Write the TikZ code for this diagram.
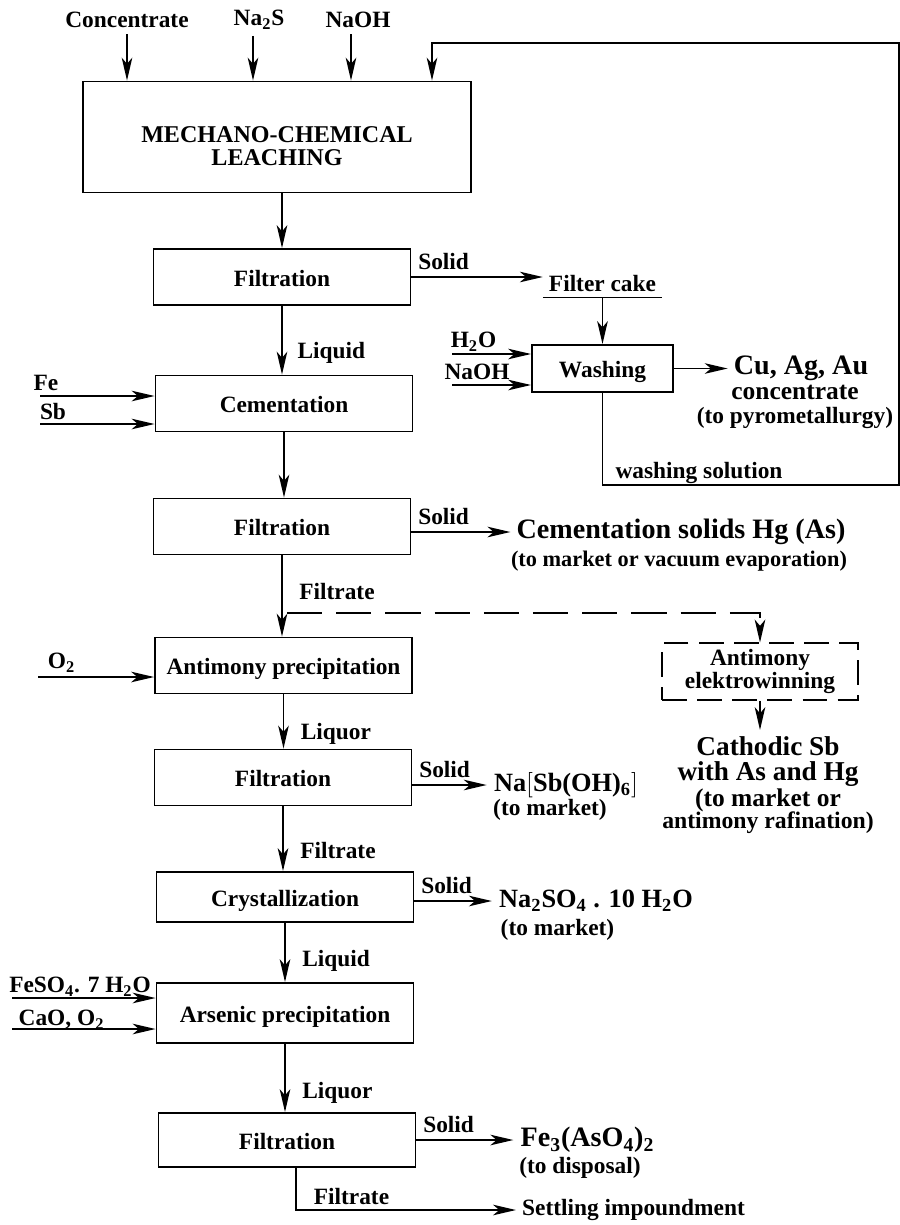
\documentclass[tikz,border=0pt]{standalone}
\usepackage{fontspec}
\setmainfont{Liberation Serif}
\usetikzlibrary{arrows.meta}
\newcommand{\sizeL}{\fontsize{16}{18}\selectfont}
\newcommand{\sizeM}{\fontsize{14.5}{16}\selectfont}
\tikzset{
  unit/.style={draw, line width=1.1pt, minimum width=5.14cm, minimum height=1.12cm,
    text height=1.1em, text depth=0.05em},
  feed/.style={-{Stealth[length=13pt,width=6pt,inset=3.5pt]}, line width=1.1pt},
  note/.style={inner sep=1pt},
}
\begin{document}
\begin{tikzpicture}[x=0.02cm, y=-0.02cm, font=\bfseries\fontsize{13.3}{15}\selectfont]
  \useasboundingbox (0,0) rectangle (900,1225);

  % process blocks
  \node[unit, minimum width=7.76cm, minimum height=2.22cm, align=center, text height=, text depth=,
    font=\bfseries\fontsize{13.7}{13.6}\selectfont] (mech) at (277,137) {\rule{0pt}{19.5pt}MECHANO-CHEMICAL\\LEACHING};
  \node[unit] (filt1) at (282,277) {Filtration};
  \node[unit] (cem) at (284,403.5) {Cementation};
  \node[unit] (filt2) at (282,526.5) {Filtration};
  \node[unit] (antim) at (283.5,665.5) {Antimony precipitation};
  \node[unit] (filt3) at (283,777.5) {Filtration};
  \node[unit, minimum height=1cm] (cryst) at (285,897) {Crystallization};
  \node[unit, minimum height=1.2cm] (ars) at (285,1013) {Arsenic precipitation};
  \node[unit, minimum height=1.08cm] (filt4) at (287,1140) {Filtration};
  \node[unit, minimum width=2.82cm, minimum height=0.94cm] (wash) at (602.5,368.5) {Washing};
  \node[unit, dash pattern=on 14pt off 6pt, minimum width=3.92cm, minimum height=1.06cm, align=center,
    text height=, text depth=, font=\bfseries\fontsize{13.3}{11.5}\selectfont] (elek) at (760,671.5) {Antimony\\elektrowinning};

  % feeds
  \node (conc) at (127,20) {Concentrate};
  \node (na2s) at (259,20) {Na\textsubscript{2}S};
  \node (naoh) at (358,20) {NaOH};
  \coordinate (fbin) at (432,43);
  \coordinate (ret) at (899,485);
  \node (h2o) at (473.5,342) {H\textsubscript{2}O};
  \node (naoh2) at (477,372) {NaOH};
  \coordinate (h2oin) at (452,354);
  \coordinate (naohin) at (452,385);
  \node (fe) at (46,383) {Fe};
  \node (sb) at (53,411) {Sb};
  \coordinate (fein) at (40,396);
  \coordinate (sbin) at (40,424);
  \node (o2) at (61.5,663) {O\textsubscript{2}};
  \coordinate (o2in) at (38,677);
  \node (feso4) at (80,987) {FeSO\textsubscript{4}. 7 H\textsubscript{2}O};
  \node (cao) at (61.5,1020) {CaO, O\textsubscript{2}};
  \coordinate (feso4in) at (12,998);
  \coordinate (caoin) at (12,1029);

  % products
  \node (cake) at (602.5,283) {Filter cake};
  \node[font=\bfseries\sizeL] (cuagau) at (801,368) {Cu, Ag, Au};
  \node[align=center, font=\bfseries\fontsize{13.3}{14}\selectfont] (cuconc) at (795,407) {{\sizeM concentrate}\\(to pyrometallurgy)};
  \node (wsol) at (699,473) {washing solution};
  \node[font=\bfseries\sizeL] (cemsol) at (681,532) {Cementation solids Hg (As)};
  \node[font=\bfseries\fontsize{12.7}{14}\selectfont] (cemmkt) at (679,561) {(to market or vacuum evaporation)};
  \node[align=center, anchor=north, font=\bfseries\fontsize{15.5}{14.5}\selectfont] (cath) at (768,730)
    {Cathodic Sb\\with As and Hg\\{\fontsize{14.5}{13}\selectfont(to market or}\\[-2pt]{\fontsize{13.5}{13}\selectfont antimony rafination)}};
  \node[note, font=\bfseries\fontsize{15}{17}\selectfont] (nasb) at (566,785) {Na$\big[$Sb(OH)\textsubscript{6}$\big]$};
  \node[note] (nasbm) at (550,810) {(to market)};
  \node[note, font=\bfseries\fontsize{15}{17}\selectfont] (nasul) at (596,901) {Na\textsubscript{2}SO\textsubscript{4} . 10 H\textsubscript{2}O};
  \node[note] (nasulm) at (557.5,930) {(to market)};
  \node[note, font=\bfseries\sizeL] (fears) at (587.5,1140) {Fe\textsubscript{3}(AsO\textsubscript{4})\textsubscript{2}};
  \node[note] (fearsd) at (580,1168) {(to disposal)};
  \node (settle) at (633.5,1210) {Settling impoundment};
  \node (ft3) at (351.5,1196) {Filtrate};

  % connectors
  \draw[feed] (conc.south) -- (conc.south |- mech.north);
  \draw[feed] ([xshift=-0.12cm]na2s.south) -- ([xshift=-0.12cm]na2s.south |- mech.north);
  \draw[feed] ([xshift=-0.14cm]naoh.south) -- ([xshift=-0.14cm]naoh.south |- mech.north);
  \draw[feed] (wash.south) |- (ret) |- (fbin) -- (fbin |- mech.north); %return
  \draw[feed] (filt1.north |- mech.south) -- (filt1.north);
  \draw[feed] (filt1.east) -- node[pos=0, anchor=south west](s1){Solid} (filt1.east -| cake.west);
  \draw (cake.south west) -- (cake.south east);
  \draw[feed] (cake.south) -- (wash.north);
  \draw[feed] (h2oin) -- (h2oin -| wash.west);
  \draw[feed] (naohin) -- (naohin -| wash.west);
  \draw[feed] (wash.east) -- (wash.east -| cuagau.west);
  \draw[feed] (filt1.south) -- node[pos=0.68, right=5pt](lq1){Liquid} (filt1.south |- cem.north);
  \draw[feed] (fein) -- (fein -| cem.west);
  \draw[feed] (sbin) -- (sbin -| cem.west);
  \draw[feed] (cem.south) -- (cem.south |- filt2.north);
  \draw[feed] (filt2.east |- cemsol) -- node[pos=0, anchor=south west](s2){Solid} (cemsol.west);
  \draw[feed] (filt2.south) -- node[pos=0.45, right=6pt](ft1){Filtrate} (filt2.south |- antim.north);
  \coordinate (tap) at ([xshift=0.1cm]filt2.south |- 0,613);
  \draw[feed, dash pattern=on 20pt off 8pt] (tap) -| (elek.north); %dashed
  \draw[feed] (elek.south) -- (elek.south |- cath.north);
  \draw[feed] (o2in) -- (o2in -| antim.west);
  \draw[feed] (antim.south) -- node[pos=0.72, right=6pt](lq2){Liquor} (antim.south |- filt3.north);
  \draw[feed] (filt3.east |- nasb) -- node[pos=0, anchor=south west](s3){Solid} ([xshift=-3pt]nasb.west);
  \draw[feed] (filt3.south) -- node[pos=0.68, right=6pt](ft2){Filtrate} (filt3.south |- cryst.north);
  \draw[feed] (cryst.east |- nasul) -- node[pos=0, anchor=south west](s4){Solid} ([xshift=-3pt]nasul.west);
  \draw[feed] (cryst.south) -- node[pos=0.65, right=6pt](lq3){Liquid} (cryst.south |- ars.north);
  \draw[feed] (feso4in) -- (feso4in -| ars.west);
  \draw[feed] (caoin) -- (caoin -| ars.west);
  \draw[feed] (ars.south) -- node[pos=0.72, right=6pt](lq4){Liquor} (ars.south |- filt4.north);
  \draw[feed] (filt4.east |- fears) -- node[pos=0, anchor=south west](s5){Solid} ([xshift=-3pt]fears.west);
  \draw[feed] ([xshift=0.18cm]filt4.south) |- (settle.west);
\end{tikzpicture}
\end{document}
